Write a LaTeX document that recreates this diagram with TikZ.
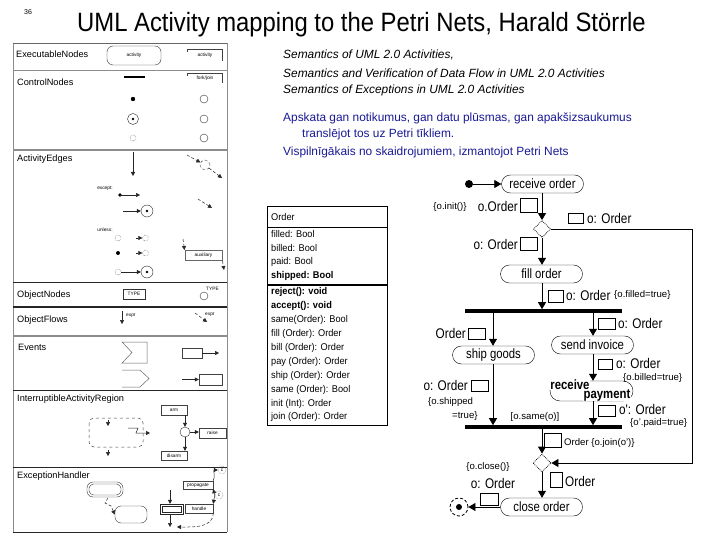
\documentclass[tikz,border=0pt]{standalone}
\usepackage{fontspec}
\setmainfont{Liberation Sans}
\newfontfamily\titlef[FakeStretch=0.9]{Liberation Sans}
\newfontfamily\cnd[FakeStretch=0.84]{Liberation Sans}
\newfontfamily\clsf[FakeStretch=0.94]{Liberation Sans}
\usetikzlibrary{arrows.meta,shapes.geometric}
\definecolor{txtblue}{RGB}{25,25,150}
\begin{document}
\begin{tikzpicture}[x=1pt,y=-1pt,
  lbl/.style={font=\fontsize{9.2}{10}\selectfont, anchor=base west, inner sep=0},
  tinyl/.style={font=\fontsize{4.8}{5}\selectfont, inner sep=0},
  lpline/.style={draw=black!75, line width=0.6pt},
  la/.style={-{Triangle[length=4pt,width=4pt]}, draw=black!85, line width=0.5pt},
  lda/.style={la, densely dashed},
  smallc/.style={circle, draw=black!80, minimum size=8pt, inner sep=0},
  dotc/.style={circle, draw=black!80, densely dotted, minimum size=6pt, inner sep=0},
  act/.style={draw, rounded corners=9pt, minimum width=82pt, minimum height=18pt, font=\cnd\fontsize{13.5}{15}\selectfont, inner sep=0},
  pa/.style={-{Triangle[length=7pt,width=8pt]}, line width=0.8pt},
  pinbox/.style={draw, fill=white, line width=0.7pt, inner sep=0},
  pl/.style={font=\cnd\fontsize{14}{15}\selectfont, inner sep=0},
  ps/.style={font=\fontsize{9.6}{10}\selectfont, inner sep=0},
  cls/.style={font=\clsf\fontsize{9.8}{11}\selectfont, anchor=west, inner sep=0},
  sidetxt/.style={font=\itshape\fontsize{11.9}{13}\selectfont, anchor=base west, inner sep=0},
  bluetxt/.style={font=\fontsize{11.9}{13}\selectfont, anchor=base west, inner sep=0, text=txtblue}
]
\useasboundingbox (0,0) rectangle (720,540);
\fill[white] (0,0) rectangle (720,540);

% ---------- title ----------
\node[anchor=base west, inner sep=0, font=\fontsize{7}{8}\selectfont] (pg) at (24,15) {36};
\node[anchor=base west, inner sep=0, font=\titlef\fontsize{26.5}{30}\selectfont] (title) at (77,32) {UML Activity mapping to the Petri Nets, Harald Störrle};

% ---------- left panel frame ----------
\draw[draw=black!45, line width=0.6pt] (13,43) -- (13,532);
\draw[draw=black!45, line width=0.6pt] (227,43) -- (227,532);
\draw[draw=black!60, line width=0.7pt] (13,43) -- (227,43);
\draw[draw=black!45, line width=0.8pt] (13,70) -- (227,70);
\draw[draw=black!45, line width=1.5pt] (13,150) -- (227,150);
\draw[draw=black!85, line width=0.8pt] (13,282) -- (227,282);
\draw[draw=black!85, line width=1.8pt] (13,307) -- (227,307);
\draw[draw=black!45, line width=1.4pt] (13,336) -- (227,336);
\draw[draw=black!85, line width=0.8pt] (13,390) -- (227,390);
\draw[draw=black!85, line width=0.8pt] (13,467) -- (227,467);
\draw[draw=black!85, line width=0.8pt] (13,532) -- (227,532);

\node[lbl] (l1) at (16,57.5) {ExecutableNodes};
\node[lbl] (l2) at (17,85.5) {ControlNodes};
\node[lbl] (l3) at (17,161.5) {ActivityEdges};
\node[lbl] (l4) at (17,297.5) {ObjectNodes};
\node[lbl] (l5) at (17,322.5) {ObjectFlows};
\node[lbl] (l6) at (18,350.5) {Events};
\node[lbl] (l7) at (17,401.5) {InterruptibleActivityRegion};
\node[lbl] (l8) at (17,478.5) {ExceptionHandler};

% ExecutableNodes
\node[draw=black!80, rounded corners=6pt, minimum width=54pt, minimum height=19pt, tinyl] (ex1) at (134,55.5) {activity};
\node[tinyl] (ex2) at (205,55) {activity};
\draw[lpline] (187,52) -- (187,49) -- (222,49) -- (222,61);
% ControlNodes
\draw[line width=2.2pt] (124,77) -- (145,77);
\node[tinyl] (fj) at (205,78) {fork/join};
\draw[lpline] (187,76) -- (187,73) -- (222,73) -- (222,83);
\fill (133,99) circle (2.2pt);
\node[smallc] (cr1) at (204,99) {};
\node[circle, draw=black!85, minimum size=11pt, inner sep=0] (af1) at (133,119) {};
\fill (af1.center) circle (1.4pt);
\node[smallc] (cr2) at (204,119) {};
\node[dotc] (ff1) at (133,138) {};
\node[smallc] (cr3) at (204,138) {};

% ActivityEdges
\coordinate (e1a) at (133,152); \coordinate (e1b) at (133,176);
\draw[la] (e1a) -- (e1b);
\node[circle, draw=black!70, densely dashed, minimum size=10pt, inner sep=0] (ec1) at (205,165) {};
\coordinate (e2a) at (187,155); \coordinate (e2b) at (222,178);
\draw[lda] (e2a) -- (ec1);
\draw[lda] (ec1) -- (e2b);
\node[tinyl] (exc) at (105,188) {except:};
\fill (120,195) circle (1.8pt) coordinate (ed1);
\coordinate (e3b) at (140,195);
\draw[la] (ed1) -- (e3b);
\coordinate (e4a) at (198,199); \coordinate (e4b) at (212,208);
\draw[lda] (e4a) -- (e4b);
\node[circle, draw=black!85, minimum size=12pt, inner sep=0] (af2) at (147,211) {};
\fill (af2.center) circle (1.4pt);
\coordinate (e5a) at (123,211);
\draw[la] (e5a) -- (af2);
\node[tinyl] (unl) at (105,230) {unless:};
\node[dotc] (ff2) at (118,238) {};
\node[dotc] (ff3) at (145.5,238) {};
\coordinate (e6a) at (136,238);
\draw[la] (e6a) -- (ff3);
\fill (118,253) circle (2pt) coordinate (ed2);
\node[dotc] (ff4) at (145.5,253) {};
\coordinate (e7a) at (136,253);
\draw[la] (e7a) -- (ff4);
\node[draw=black!60, line width=1pt, minimum width=37pt, minimum height=10pt, inner sep=0, tinyl] (aux) at (203.5,255.5) {auxiliary};
\coordinate (e8a) at (183,239);
\draw[lda] (e8a) -- (aux.north west);
\coordinate (e9b) at (224,270);
\draw[lda] (aux.south east) -- (e9b);
\node[dotc] (ff5) at (118,272) {};
\node[circle, draw=black!85, minimum size=12pt, inner sep=0] (af3) at (147,272) {};
\fill (af3.center) circle (1.4pt);
\draw[la] (ff5) -- (af3);

% ObjectNodes
\node[draw=black!80, minimum width=22pt, minimum height=10pt, inner sep=0, tinyl] (typ) at (134,294) {TYPE};
\node[smallc] (oc) at (204,296) {};
\node[tinyl, anchor=west] (typ2) at (206,289) {TYPE};
% ObjectFlows
\coordinate (of1a) at (122,311); \coordinate (of1b) at (122,324);
\draw[la] (of1a) -- (of1b);
\node[tinyl, anchor=west] (ex1l) at (126,316) {expr};
\coordinate (of2a) at (195,313); \coordinate (of2b) at (207,322);
\draw[lda] (of2a) -- (of2b);
\node[tinyl, anchor=west] (ex2l) at (205,315) {expr};
% Events
\draw[draw=black!60, line width=0.5pt] (122,342) -- (147,342) -- (147,363) -- (122,363) -- (132,352.5) -- cycle;
\node[draw=black!75, minimum width=20pt, minimum height=10pt, inner sep=0] (sg1) at (192,353) {};
\coordinate (ev1b) at (219,353);
\draw[la] (sg1.east) -- (ev1b);
\draw[draw=black!60, line width=0.5pt] (122,370) -- (140,370) -- (149,378.5) -- (140,387) -- (122,387);
\node[draw=black!75, minimum width=23pt, minimum height=11pt, inner sep=0] (sg2) at (210.5,379.5) {};
\coordinate (ev2a) at (182,379.5);
\draw[la] (ev2a) -- (sg2.west);

% InterruptibleActivityRegion
\draw[draw=black!75, dashed, rounded corners=5pt, line width=0.5pt] (89,418) rectangle (143,447);
\coordinate (ir1a) at (108,420); \coordinate (ir1b) at (108,426);
\draw[la] (ir1a) -- (ir1b);
\coordinate (ir2a) at (108,450); \coordinate (ir2b) at (108,456);
\draw[la] (ir2a) -- (ir2b);
\coordinate (zz1) at (128,428); \coordinate (zz2) at (150,433);
\draw[la] (zz1) -- (138,428) -- (136,433) -- (zz2);
\node[draw=black!75, minimum width=26pt, minimum height=10pt, inner sep=0, tinyl] (arm) at (174,410) {arm};
\node[smallc, minimum size=10pt] (ic) at (185,432) {};
\node[draw=black!75, minimum width=27pt, minimum height=10pt, inner sep=0, tinyl] (raise) at (212.5,433) {raise};
\node[draw=black!75, minimum width=26pt, minimum height=9pt, inner sep=0, tinyl] (disarm) at (174,455.5) {disarm};
\draw[la] (arm.south -| ic.north) -- (ic.north);
\draw[la] (ic.east) -- (raise.west |- ic.east);
\draw[la] (ic.south) -- (disarm.north -| ic.south);

% ExceptionHandler
\node[draw=black!80, rounded corners=6pt, minimum width=36pt, minimum height=15pt, inner sep=0] (prot) at (105,489.5) {};
\draw[draw=black!80, rounded corners=4.5pt] (89,484) rectangle (121,495);
\node[draw=black!80, rounded corners=6pt, minimum width=32pt, minimum height=17pt, inner sep=0] (hnd) at (131,514.5) {};
\coordinate (eh1) at (108,498);
\draw[lda] (eh1) -- (105,503) -- (111,506) -- (hnd.west);
\node[draw=black!85, minimum width=23pt, minimum height=10pt, inner sep=0] (dbl) at (171.5,509) {};
\draw[draw=black!85] (162,506) rectangle (181,512);
\coordinate (eh2) at (170,490); \coordinate (eh3) at (170,527);
\draw[la] (eh2) -- (dbl.north -| eh2);
\draw[la] (dbl.south -| eh3) -- (eh3);
\node[draw=black!75, minimum width=28pt, minimum height=9pt, inner sep=0, tinyl] (handle) at (199,508.5) {handle};
\node[draw=black!75, minimum width=30pt, minimum height=8pt, inner sep=0, tinyl] (prop) at (198,485) {propagate};
\node[circle, draw=black!70, densely dotted, minimum size=8pt, inner sep=0, tinyl] (cc1) at (219,495) {c};
\node[circle, draw=black!70, densely dotted, minimum size=8pt, inner sep=0, tinyl] (cc2) at (222,470) {c};
\draw[la] (cc1.west) -- (prop.south east);
\draw[la] (cc1.west) -- (handle.north east);
\draw[la] (prop.north east) to[out=60,in=180] (cc2.west);
\coordinate (eh4) at (177,527);
\draw[lda] (handle.south east) to[out=-90,in=0] (eh4);

% ---------- right text ----------
\node[sidetxt] (s1) at (283,58.5) {Semantics of UML 2.0 Activities,};
\node[sidetxt] (s2) at (283,77.5) {Semantics and Verification of Data Flow in UML 2.0 Activities};
\node[sidetxt] (s3) at (283,94) {Semantics of Exceptions in UML 2.0 Activities};
\node[bluetxt] (b1) at (283,122) {Apskata gan notikumus, gan datu plūsmas, gan apakšizsaukumus};
\node[bluetxt] (b2) at (302,138) {translējot tos uz Petri tīkliem.};
\node[bluetxt] (b3) at (283,156) {Vispilnīgākais no skaidrojumiem, izmantojot Petri Nets};

% ---------- class box ----------
\draw[line width=1pt] (267,207) rectangle (387,425);
\draw[line width=0.8pt] (267,227) -- (387,227);
\draw[line width=2pt] (267,285) -- (387,285);
\node[cls] (c0) at (271,217) {Order};
\node[cls] (c1) at (271,234) {filled: Bool};
\node[cls] (c2) at (271,248) {billed: Bool};
\node[cls] (c3) at (271,262) {paid: Bool};
\node[cls] (c4) at (271,276) {\bfseries shipped: Bool};
\node[cls] (m1) at (271,292) {\bfseries reject(): void};
\node[cls] (m2) at (271,306) {\bfseries accept(): void};
\node[cls] (m3) at (271,320) {same(Order): Bool};
\node[cls] (m4) at (271,334) {fill (Order): Order};
\node[cls] (m5) at (271,348) {bill (Order): Order};
\node[cls] (m6) at (271,362) {pay (Order): Order};
\node[cls] (m7) at (271,376) {ship (Order): Order};
\node[cls] (m8) at (271,390) {same (Order): Bool};
\node[cls] (m9) at (271,403.5) {init (Int): Order};
\node[cls] (m10) at (271,417) {join (Order): Order};

% ---------- activity / petri diagram ----------
\node[circle, fill, minimum size=8pt, inner sep=0] (start) at (469,184) {};
\node[act] (recv) at (542.5,184) {receive order};
\node[diamond, draw, densely dotted, minimum width=17pt, minimum height=17pt, inner sep=0, line width=0.8pt] (d1) at (542,229) {};
\node[act] (fill) at (541.5,274) {fill order};
\node[fill, minimum width=157pt, minimum height=3.2pt, inner sep=0] (bar1) at (543.5,311) {};
\node[act] (ship) at (493.5,355) {ship goods};
\node[act] (send) at (592.5,345) {send invoice};
\node[draw, rounded corners=10pt, minimum width=83pt, minimum height=20pt, inner sep=0] (pay) at (591.5,391) {};
\node[pl, font=\cnd\bfseries\fontsize{13.5}{15}\selectfont, fill=white, inner sep=0.5pt] (payA) at (570,385) {receive};
\node[pl, font=\cnd\bfseries\fontsize{13.5}{15}\selectfont, fill=white, inner sep=0.5pt] (payB) at (607,395) {payment};
\node[fill, minimum width=157pt, minimum height=3.2pt, inner sep=0] (bar2) at (543.5,427) {};
\node[diamond, draw, densely dotted, minimum width=18pt, minimum height=18pt, inner sep=0, line width=0.8pt] (d2) at (542,463) {};
\node[act] (close) at (541.5,507) {close order};
\node[circle, draw, densely dashed, minimum size=18pt, inner sep=0, line width=0.8pt] (fin) at (459,507) {};
\fill (fin.center) circle (3pt);
\coordinate (fbk) at (692,229);

\draw[pa] (start) -- (recv.west);
\draw[pa] (recv.south -| d1.north) -- (d1.north);
\draw[pa] (d1.south) -- (fill.north -| d1.south);
\draw[pa] (d1.east) -- (fbk) |- (d2.east);
\draw[pa] (fill.south -| d1.south) -- (bar1.north -| d1.south);
\draw[pa] (bar1.south -| 493,0) -- (ship.north -| 493,0);
\draw[pa] (bar1.south -| 593,0) -- (send.north -| 593,0);
\draw[pa] (send.south -| 593,0) -- (pay.north -| 593,0);
\draw[pa] (ship.south -| 493,0) -- (bar2.north -| 493,0);
\draw[pa] (pay.south -| 593,0) -- (bar2.north -| 593,0);
\draw[pa] (bar2.south -| d2.north) -- (d2.north);
\draw[pa] (d2.south) -- (close.north -| d2.south);
\draw[pa] (close.west) -- (fin.east);

% pins
\node[pinbox, minimum width=17pt, minimum height=14pt] (p1) at (528.5,205) {};
\node[pinbox, minimum width=15pt, minimum height=10pt] (p2) at (575.5,218) {};
\node[pinbox, minimum width=17pt, minimum height=13pt] (p3) at (528.5,243.5) {};
\node[pinbox, minimum width=15pt, minimum height=12pt] (p4) at (555.5,296) {};
\node[pinbox, minimum width=17pt, minimum height=11pt] (p5) at (476.5,333.5) {};
\node[pinbox, minimum width=17pt, minimum height=11pt] (p6) at (606.5,323.5) {};
\node[pinbox, minimum width=14pt, minimum height=10pt] (p7) at (605,364) {};
\node[pinbox, minimum width=17pt, minimum height=11pt] (p8) at (479.5,385.5) {};
\node[pinbox, minimum width=17pt, minimum height=11pt] (p9) at (606.5,410.5) {};
\node[pinbox, minimum width=17pt, minimum height=14pt] (p10) at (552.5,440) {};
\node[pinbox, minimum width=12pt, minimum height=15pt] (p11) at (556,479.5) {};
\node[pinbox, minimum width=18pt, minimum height=12pt] (p12) at (489,499) {};

% labels
\node[ps] (t1) at (450,207) {\{o.init()\}};
\node[pl, anchor=east] (t2) at (518,206) {o.Order};
\node[pl, anchor=west] (t3) at (587,218) {o: Order};
\node[pl, anchor=east] (t4) at (518,244) {o: Order};
\node[pl, anchor=west] (t5) at (566,295) {o: Order};
\node[ps, anchor=west] (t6) at (614,295) {\{o.filled=true\}};
\node[pl, anchor=east] (t7) at (466,333) {Order};
\node[pl, anchor=west] (t8) at (618,323) {o: Order};
\node[pl, anchor=west] (t9) at (616,363.5) {o: Order};
\node[ps, anchor=west] (t10) at (623,378.5) {\{o.billed=true\}};
\node[pl, anchor=east] (t11) at (468,385) {o: Order};
\node[ps, anchor=west] (t12) at (428,402) {\{o.shipped};
\node[ps, anchor=west] (t13) at (452,416) {=true\}};
\node[ps] (t14) at (535,417) {[o.same(o)]};
\node[pl, anchor=west] (t15) at (619,409) {o': Order};
\node[ps, anchor=west] (t16) at (630,423) {\{o'.paid=true\}};
\node[ps, anchor=west] (t17) at (564,443) {Order \{o.join(o')\}};
\node[ps] (t18) at (488,467) {\{o.close()\}};
\node[pl] (t19) at (493,483) {o: Order};
\node[pl, anchor=west] (t20) at (565,481) {Order};
\end{tikzpicture}
\end{document}
